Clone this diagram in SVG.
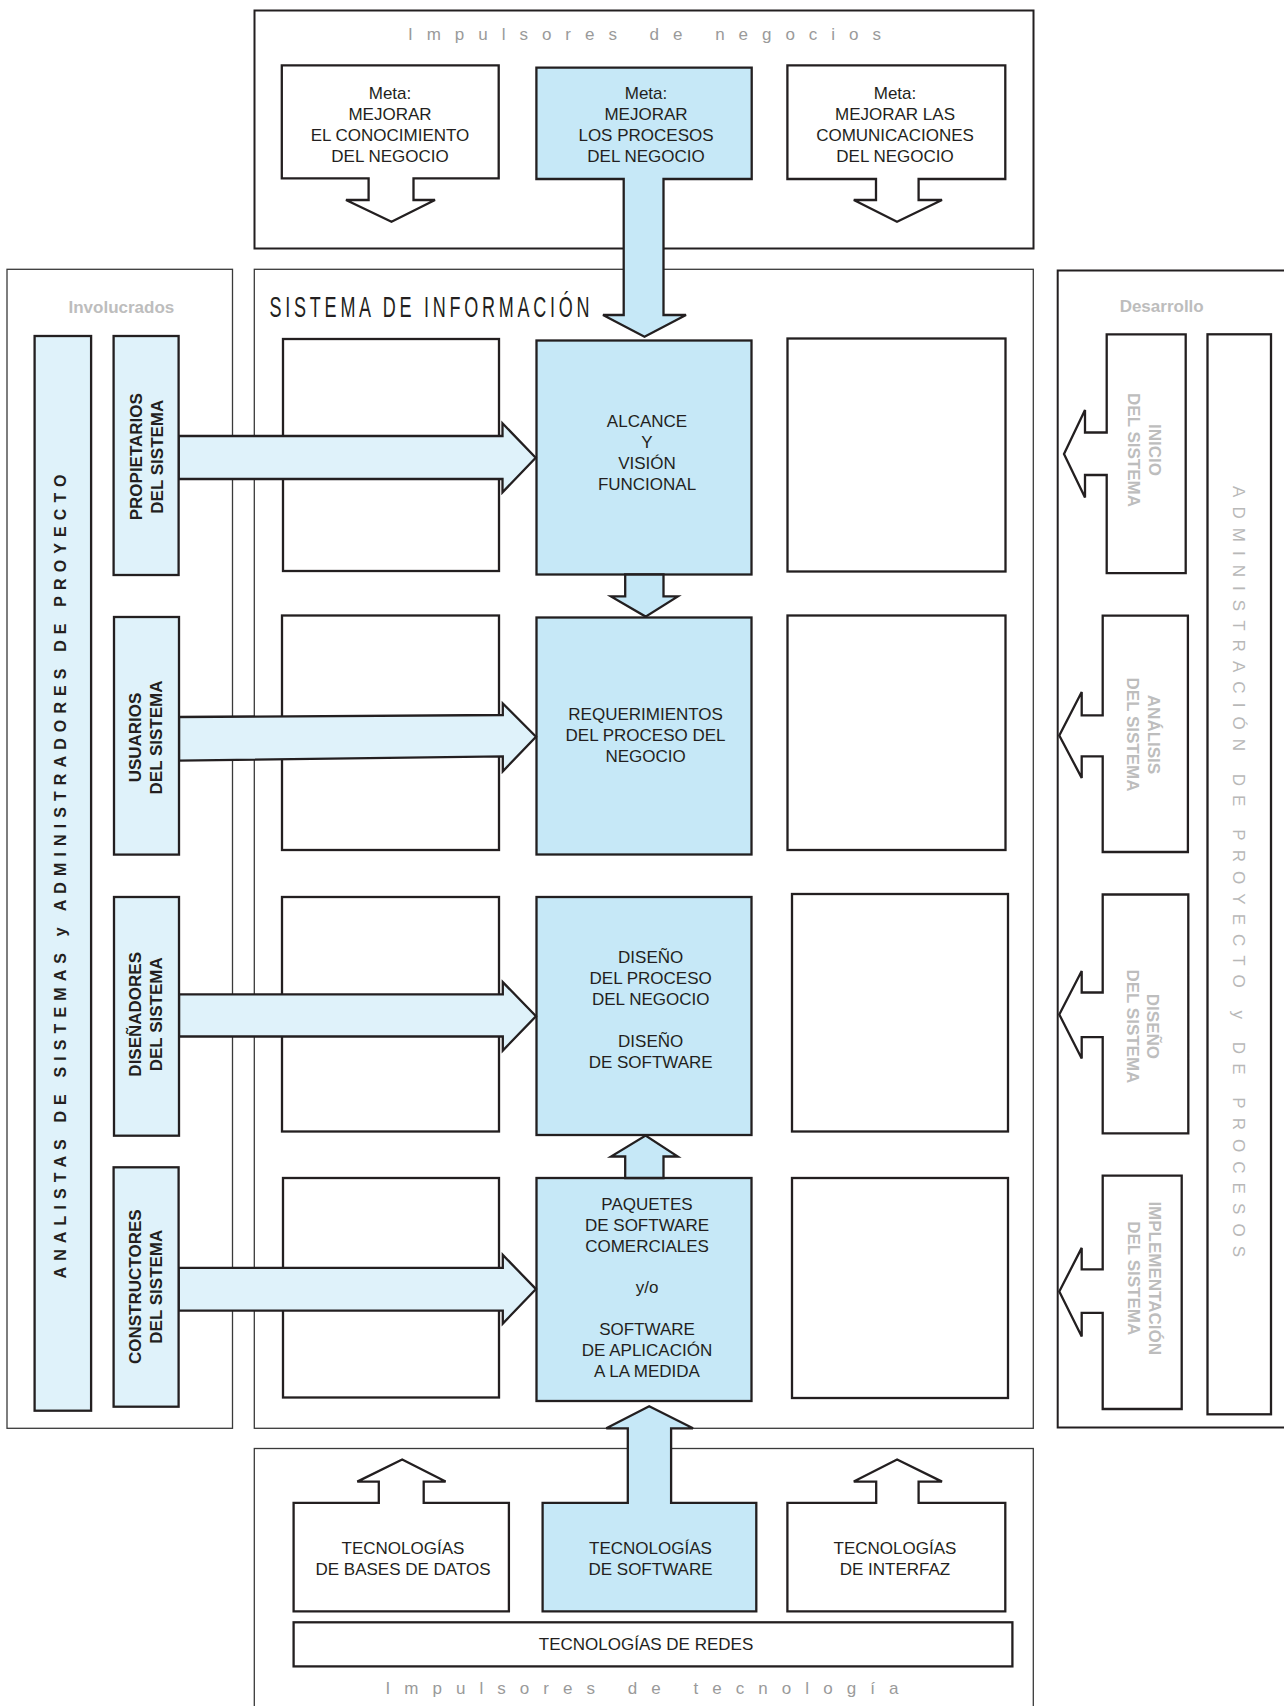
<svg xmlns="http://www.w3.org/2000/svg" width="1284" height="1706" viewBox="0 0 1284 1706">
<style>
.bg{fill:#ffffff}
.panel{fill:#ffffff;stroke:#3a3a3a;stroke-width:1.3}
.panelb{fill:#ffffff;stroke:#231f20;stroke-width:2}
.box{fill:#ffffff;stroke:#231f20;stroke-width:2.3;stroke-linejoin:miter}
.blue{fill:#c6e8f7;stroke:#231f20;stroke-width:2.3;stroke-linejoin:miter}
.lb{fill:#dff2fa;stroke:#231f20;stroke-width:2.3;stroke-linejoin:miter}
.t{font-family:"Liberation Sans",Arial,sans-serif;font-size:17px;fill:#231f20;text-anchor:middle}
.tb{font-family:"Liberation Sans",Arial,sans-serif;font-size:17px;font-weight:bold;fill:#231f20;text-anchor:middle}
.tg{font-family:"Liberation Sans",Arial,sans-serif;font-size:17px;font-weight:bold;fill:#bdbdbd;text-anchor:middle}
.sp{font-family:"Liberation Sans",Arial,sans-serif;font-size:17px;fill:#9a9a9a}
</style>
<rect class="bg" x="0" y="0" width="1284" height="1706"/>

<g id="panels">
  <rect id="panel-negocios" class="panelb" x="254.5" y="10.5" width="779" height="238"/>
  <rect id="panel-sistema" class="panel" x="254.3" y="269.3" width="779" height="1159"/>
  <rect id="panel-involucrados" class="panel" x="7" y="269.3" width="225.5" height="1159"/>
  <rect id="panel-desarrollo" class="panelb" x="1057.7" y="270.5" width="300" height="1157"/>
  <rect id="panel-tecnologia" class="panel" x="254.3" y="1448.5" width="779" height="300"/>
</g>

<g id="grid">
  <rect id="r1l" class="box" x="283" y="339" width="216" height="232"/>
  <rect id="r1r" class="box" x="787.5" y="338.5" width="218" height="233"/>
  <rect id="r2l" class="box" x="282" y="615.5" width="217" height="234.5"/>
  <rect id="r2r" class="box" x="787.5" y="615.5" width="218" height="234.5"/>
  <rect id="r3l" class="box" x="282" y="897" width="217" height="234.5"/>
  <rect id="r3r" class="box" x="792" y="894" width="216" height="237.5"/>
  <rect id="r4l" class="box" x="283" y="1178" width="216" height="219.5"/>
  <rect id="r4r" class="box" x="792" y="1178" width="216" height="220"/>
</g>

<g id="node-alcance"><rect class="blue" x="536.5" y="340.5" width="215" height="234"/></g>
<g id="node-requerimientos"><rect class="blue" x="536.5" y="617.5" width="215" height="237"/></g>
<g id="node-diseno"><rect class="blue" x="536.5" y="897" width="215" height="238"/></g>
<g id="node-paquetes"><rect class="blue" x="536.5" y="1178" width="215" height="223"/></g>

<g id="connectors">
  <path class="blue" d="M625.2,574.5 V596.4 H611 L645.6,616.6 L677.8,596.4 H663.5 V574.5 Z"/>
  <path class="blue" d="M625.2,1178 V1156.5 H611 L645.6,1135.5 L677.8,1156.5 H663.5 V1178 Z"/>
  <path class="lb" d="M178.6,436 H502.5 V423.3 L535.7,457.7 L502.5,492.3 V479 H178.6 Z"/>
  <path class="lb" d="M179,717 L502.8,715 V703.5 L536,736.8 L502.8,771.3 V756.3 L179,760.7 Z"/>
  <path class="lb" d="M179,994.4 H502.8 V982.1 L536,1016.2 L502.8,1050.6 V1036.5 H179 Z"/>
  <path class="lb" d="M178.6,1267.8 H502.8 V1254.9 L536,1289.1 L502.8,1323.6 V1310.7 H178.6 Z"/>
</g>

<g id="node-meta1">
  <path class="box" d="M281.8,65.3 H498.7 V178.3 H413.5 V200 H435 L391.5,221.7 L346,200 H368.6 V178.3 H281.8 Z"/>
  <text class="t"><tspan x="390" y="99">Meta:</tspan><tspan x="390" y="120">MEJORAR</tspan><tspan x="390" y="141">EL CONOCIMIENTO</tspan><tspan x="390" y="161.5">DEL NEGOCIO</tspan></text>
</g>
<g id="node-meta2">
  <path class="blue" d="M536.4,67.7 H751.7 V179 H663.5 V315 H686 L644.5,336.7 L603,315 H623.7 V179 H536.4 Z"/>
  <text class="t"><tspan x="646" y="99">Meta:</tspan><tspan x="646" y="120">MEJORAR</tspan><tspan x="646" y="141">LOS PROCESOS</tspan><tspan x="646" y="161.5">DEL NEGOCIO</tspan></text>
</g>
<g id="node-meta3">
  <path class="box" d="M787.4,65.3 H1005.3 V179 H918.6 V200 H942 L897,221.7 L853.8,200 H876 V179 H787.4 Z"/>
  <text class="t"><tspan x="895" y="99">Meta:</tspan><tspan x="895" y="120">MEJORAR LAS</tspan><tspan x="895" y="141">COMUNICACIONES</tspan><tspan x="895" y="161.5">DEL NEGOCIO</tspan></text>
</g>

<g id="node-tec-software">
  <path class="blue" d="M542.6,1502.9 H627.8 V1428.3 H606.3 L649.2,1406.3 L693,1428.3 H671.1 V1502.9 H756.3 V1611.3 H542.6 Z"/>
  <text class="t"><tspan x="650.5" y="1554">TECNOLOGÍAS</tspan><tspan x="650.5" y="1575">DE SOFTWARE</tspan></text>
</g>
<g id="node-tec-bd">
  <path class="box" d="M293.6,1502.9 H378.8 V1481.6 H357.3 L402.2,1459.5 L445.6,1481.6 H423.7 V1502.9 H508.9 V1611.3 H293.6 Z"/>
  <text class="t"><tspan x="403" y="1554">TECNOLOGÍAS</tspan><tspan x="403" y="1575">DE BASES DE DATOS</tspan></text>
</g>
<g id="node-tec-interfaz">
  <path class="box" d="M787.4,1502.9 H876.2 V1481.6 H853.8 L897.1,1459.5 L942,1481.6 H918.6 V1502.9 H1005.3 V1611.3 H787.4 Z"/>
  <text class="t"><tspan x="895" y="1554">TECNOLOGÍAS</tspan><tspan x="895" y="1575">DE INTERFAZ</tspan></text>
</g>
<g id="node-tec-redes">
  <rect class="box" x="293.6" y="1622.3" width="718.8" height="44.1"/>
  <text class="t" x="646" y="1650.3">TECNOLOGÍAS DE REDES</text>
</g>

<g id="node-analistas">
  <rect class="lb" x="34.6" y="336" width="56.5" height="1074.7"/>
  <text transform="translate(60,1278.5) rotate(-90)" x="0" y="5.7" textLength="804" lengthAdjust="spacing" style="font-family:'Liberation Sans',Arial,sans-serif;font-size:16px;font-weight:bold;fill:#231f20">ANALISTAS DE SISTEMAS y ADMINISTRADORES DE PROYECTO</text>
</g>
<g id="node-propietarios">
  <rect class="lb" x="113.6" y="336" width="65" height="239"/>
  <text class="tb" transform="translate(146.3,456.7) rotate(-90)"><tspan x="0" y="-4.6">PROPIETARIOS</tspan><tspan x="0" y="16.7">DEL SISTEMA</tspan></text>
</g>
<g id="node-usuarios">
  <rect class="lb" x="114" y="617" width="65" height="237.6"/>
  <text class="tb" transform="translate(145.4,737.5) rotate(-90)"><tspan x="0" y="-4.4">USUARIOS</tspan><tspan x="0" y="16.3">DEL SISTEMA</tspan></text>
</g>
<g id="node-disenadores">
  <rect class="lb" x="114" y="897" width="65" height="238.7"/>
  <text class="tb" transform="translate(145.4,1014.3) rotate(-90)"><tspan x="0" y="-4.4">DISEÑADORES</tspan><tspan x="0" y="16.3">DEL SISTEMA</tspan></text>
</g>
<g id="node-constructores">
  <rect class="lb" x="113.6" y="1167.3" width="65" height="239.4"/>
  <text class="tb" transform="translate(145.5,1286.7) rotate(-90)"><tspan x="0" y="-4.5">CONSTRUCTORES</tspan><tspan x="0" y="16.5">DEL SISTEMA</tspan></text>
</g>

<g id="node-inicio">
  <path class="box" d="M1106.7,334.3 H1185.7 V573.2 H1106.7 V475 H1085 V497.5 L1064,454 L1085,410 V432.5 H1106.7 Z"/>
  <text class="tg" transform="translate(1144.6,450) rotate(90)"><tspan x="0" y="-4.4">INICIO</tspan><tspan x="0" y="16.3">DEL SISTEMA</tspan></text>
</g>
<g id="node-analisis">
  <path class="box" d="M1102.7,615.6 H1187.9 V852 H1102.7 V756.4 H1081.7 V777.9 L1059.3,735.5 L1081.7,692 V715.4 H1102.7 Z"/>
  <text class="tg" transform="translate(1143.5,734.5) rotate(90)"><tspan x="0" y="-4.4">ANÁLISIS</tspan><tspan x="0" y="16.3">DEL SISTEMA</tspan></text>
</g>
<g id="node-diseno-sistema">
  <path class="box" d="M1102.7,894.5 H1188.3 V1133.3 H1102.7 V1037.1 H1081.7 V1058.6 L1059.3,1014.5 L1081.7,971 V992.5 H1102.7 Z"/>
  <text class="tg" transform="translate(1142.8,1026.4) rotate(90)"><tspan x="0" y="-4.4">DISEÑO</tspan><tspan x="0" y="16.3">DEL SISTEMA</tspan></text>
</g>
<g id="node-implementacion">
  <path class="box" d="M1102.7,1175.7 H1181.7 V1409 H1102.7 V1312.9 H1081.7 V1336.4 L1059.3,1291.5 L1081.7,1247.9 V1269.3 H1102.7 Z"/>
  <text class="tg" transform="translate(1144.3,1278.2) rotate(90)"><tspan x="0" y="-4.4">IMPLEMENTACIÓN</tspan><tspan x="0" y="16.3">DEL SISTEMA</tspan></text>
</g>
<g id="node-administracion">
  <rect class="box" x="1207.5" y="334.3" width="63.5" height="1080"/>
  <text transform="translate(1239.5,486) rotate(90)" x="0" y="6.1" textLength="771" lengthAdjust="spacing" style="font-family:'Liberation Sans',Arial,sans-serif;font-size:17px;fill:#b8b8b8">ADMINISTRACIÓN DE PROYECTO y DE PROCESOS</text>
</g>

<g id="labels">
  <text class="sp" x="408" y="39.7" textLength="473" lengthAdjust="spacing">Impulsores de negocios</text>
  <text class="sp" x="385.4" y="1693.5" textLength="513" lengthAdjust="spacing">Impulsores de tecnología</text>
  <text class="tg" x="121.4" y="312.7">Involucrados</text>
  <text class="tg" x="1161.7" y="311.7">Desarrollo</text>
  <text transform="translate(269.6,316.7) scale(0.6,1)" x="0" y="0" textLength="533" lengthAdjust="spacing" style="font-family:'Liberation Sans',Arial,sans-serif;font-size:30px;fill:#231f20">SISTEMA DE INFORMACIÓN</text>
</g>

<g id="center-texts">
  <text class="t"><tspan x="647" y="427">ALCANCE</tspan><tspan x="647" y="448">Y</tspan><tspan x="647" y="469">VISIÓN</tspan><tspan x="647" y="490">FUNCIONAL</tspan></text>
  <text class="t"><tspan x="645.6" y="720">REQUERIMIENTOS</tspan><tspan x="645.6" y="741">DEL PROCESO DEL</tspan><tspan x="645.6" y="762">NEGOCIO</tspan></text>
  <text class="t"><tspan x="650.7" y="963">DISEÑO</tspan><tspan x="650.7" y="984">DEL PROCESO</tspan><tspan x="650.7" y="1005">DEL NEGOCIO</tspan><tspan x="650.7" y="1047">DISEÑO</tspan><tspan x="650.7" y="1068">DE SOFTWARE</tspan></text>
  <text class="t"><tspan x="647" y="1209.5">PAQUETES</tspan><tspan x="647" y="1230.5">DE SOFTWARE</tspan><tspan x="647" y="1251.5">COMERCIALES</tspan><tspan x="647" y="1293">y/o</tspan><tspan x="647" y="1335">SOFTWARE</tspan><tspan x="647" y="1356">DE APLICACIÓN</tspan><tspan x="647" y="1377">A LA MEDIDA</tspan></text>
</g>
</svg>
